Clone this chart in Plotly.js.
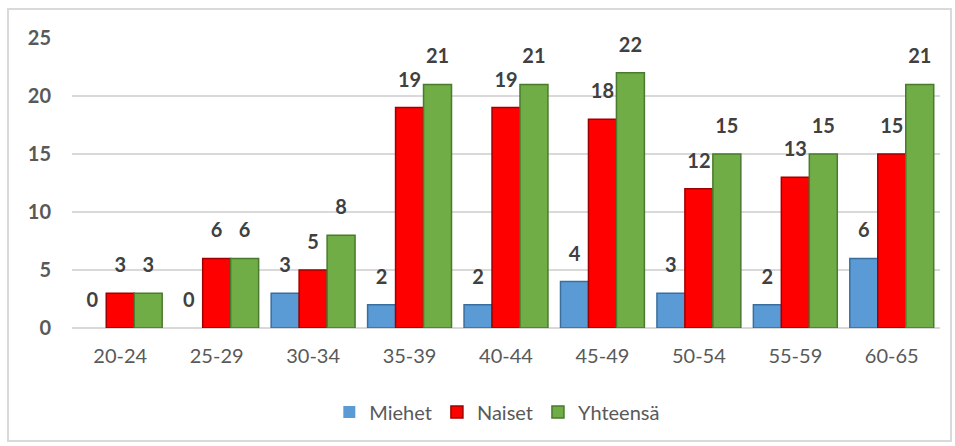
<!DOCTYPE html>
<html><head><meta charset="utf-8">
<script src="https://cdn.plot.ly/plotly-3.0.1.min.js"></script>
<style>
html,body{margin:0;padding:0;background:#fff;}
#wrap{position:relative;width:955px;height:446px;}
#chart{width:955px;height:446px;}
#frame{position:absolute;left:7px;top:8px;width:941px;height:430px;border:2px solid #d9d9d9;pointer-events:none;}
</style></head>
<body>
<div id="wrap"><div id="chart"></div><div id="frame"></div></div>
<script>
const categories = ["20-24","25-29","30-34","35-39","40-44","45-49","50-54","55-59","60-65"];
const seriesNames = ["Miehet","Naiset","Yhteensä"];
const miehet   = [0,0,3,2,2,4,3,2,6];
const naiset   = [3,6,5,19,19,18,12,13,15];
const yhteensa = [3,6,8,21,21,22,15,15,21];
const yTicks = [0,5,10,15,20,25];

const fills = ["#5b9bd5","#ff0000","#70ad47"];
const edges = ["#3a6e9e","#a00000","#4a7a2e"];
const values = [miehet, naiset, yhteensa];
const FONT = "Lato, 'Open Sans', sans-serif";

const traces = [];
values.forEach((v,i)=>{
  traces.push({
    type:"bar", name:seriesNames[i], x:categories, y:v,
    offsetgroup:String(i), alignmentgroup:"a",
    marker:{color:fills[i], line:{color:edges[i], width:v.map(d=> d===0 ? 0 : 1.5)}},
    hoverinfo:"x+y"
  });
});
values.forEach((v,i)=>{
  traces.push({
    type:"scatter", mode:"markers+text", x:categories, y:v,
    offsetgroup:String(i), alignmentgroup:"a",
    text:v.map(String), textposition:"top center",
    marker:{size:24, color:"rgba(0,0,0,0)"},
    textfont:{family:FONT, size:20, color:"#404040", weight:"bold"},
    showlegend:false, hoverinfo:"skip", cliponaxis:false
  });
});

const layout = {
  width:955, height:446,
  margin:{l:72, r:15, t:38, b:118},
  paper_bgcolor:"#fff", plot_bgcolor:"#fff",
  barmode:"group", scattermode:"group", bargap:0.13, bargroupgap:0,
  showlegend:true,
  legend:{orientation:"h", x:0.49, xanchor:"center", y:-0.29, yanchor:"middle",
    font:{family:FONT, size:20, color:"#595959"}, itemwidth:30, tracegroupgap:0},
  xaxis:{type:"category", showgrid:false, zeroline:false, showline:false, ticks:"",
    tickfont:{family:FONT, size:20, color:"#595959"}, ticklabelstandoff:14, fixedrange:true},
  yaxis:{range:[0,25], tickvals:yTicks, showgrid:true, gridcolor:"#d9d9d9", gridwidth:2,
    zeroline:true, zerolinecolor:"#d9d9d9", zerolinewidth:2, ticks:"",
    tickfont:{family:FONT, size:20, color:"#595959", weight:"bold"}, ticklabelstandoff:20, fixedrange:true}
};
Plotly.newPlot("chart", traces, layout, {displayModeBar:false, staticPlot:true});
</script>
</body></html>
